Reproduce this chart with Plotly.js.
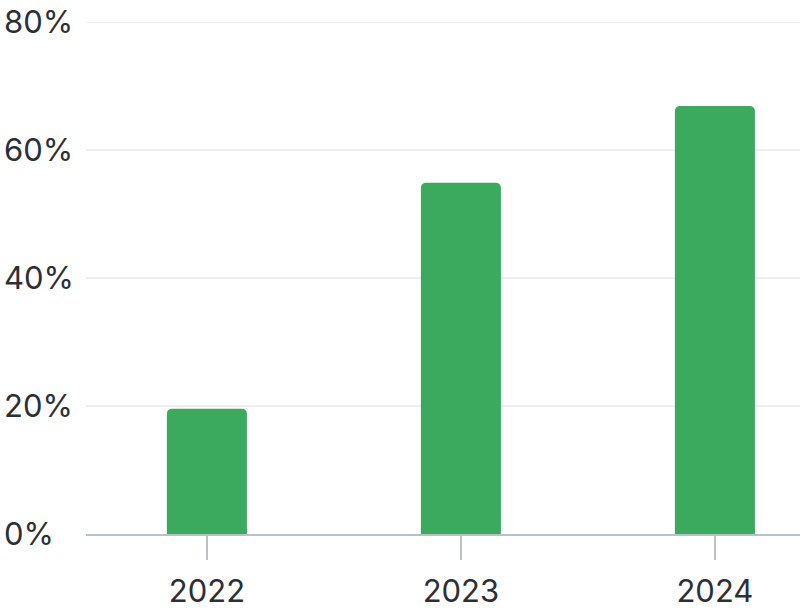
<!DOCTYPE html>
<html>
<head>
<meta charset="utf-8">
<script src="https://cdn.plot.ly/plotly-3.0.1.min.js"></script>
<style>html,body{margin:0;padding:0;background:#fff;}#chart{width:800px;height:612px;}</style>
</head>
<body>
<div id="chart"></div>
<script>
const years = ["2022", "2023", "2024"];
const shares = [19.6, 54.9, 66.9];
const yTickValues = [0, 20, 40, 60, 80];
const yTickLabels = ["0%", "20%", "40%", "60%", "80%"];

const trace = {
  type: "bar",
  x: years,
  y: shares,
  width: 0.315,
  marker: { color: "#3BAA5E" },
  hoverinfo: "skip"
};

const layout = {
  width: 800,
  height: 612,
  margin: { l: 0, r: 0, t: 21, b: 78 },
  paper_bgcolor: "#ffffff",
  plot_bgcolor: "#ffffff",
  showlegend: false,
  barcornerradius: 5,
  font: { family: "Inter, 'Open Sans', sans-serif", size: 31, color: "#2B2F36" },
  xaxis: {
    type: "category",
    domain: [86 / 800, 1],
    range: [-0.476, 2.335],
    showgrid: false,
    showline: true,
    linecolor: "#B9C0CA",
    linewidth: 1.5,
    ticks: "outside",
    ticklen: 24,
    tickwidth: 1.5,
    tickcolor: "#B9C0CA",
    ticklabelstandoff: 5,
    tickfont: { size: 31, color: "#2B2F36" },
    fixedrange: true
  },
  yaxis: {
    anchor: "free",
    position: 0,
    range: [0, 80.2],
    tickvals: yTickValues,
    ticktext: yTickLabels,
    ticklabelposition: "inside",
    ticklabeloverflow: "allow",
    ticklabelstandoff: 0,
    showgrid: true,
    gridcolor: "#EEEFF3",
    gridwidth: 1.5,
    zeroline: false,
    showline: false,
    ticks: "",
    tickfont: { size: 31, color: "#2B2F36" },
    fixedrange: true
  }
};

Plotly.newPlot("chart", [trace], layout, { displayModeBar: false, staticPlot: true });
</script>
</body>
</html>
